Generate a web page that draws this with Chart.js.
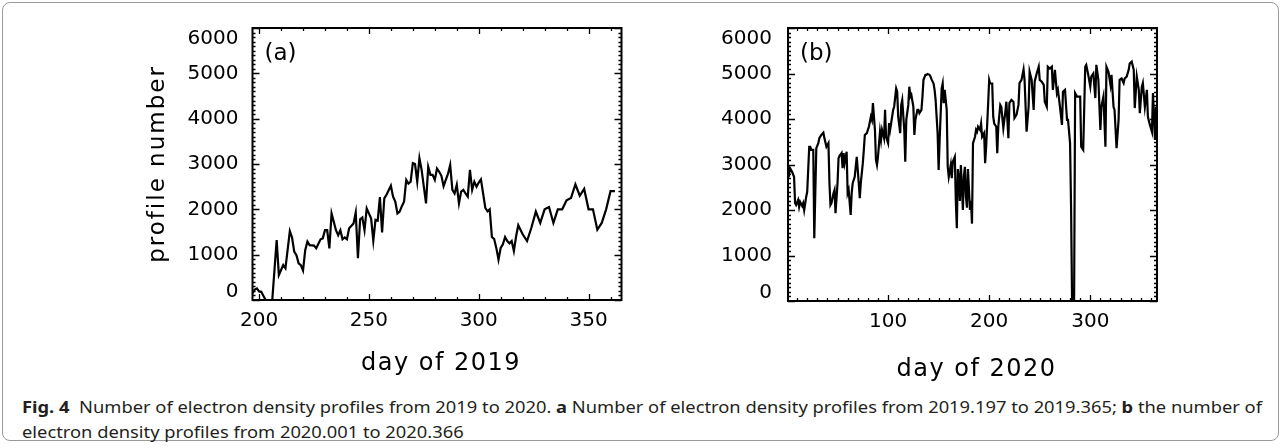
<!DOCTYPE html>
<html>
<head>
<meta charset="utf-8">
<script src="https://cdn.jsdelivr.net/npm/chart.js@4.4.1/dist/chart.umd.min.js"></script>
<style>
    html, body { margin: 0; padding: 0; background: #fff; }
    body { width: 1282px; height: 448px; position: relative; overflow: hidden; }
    .figure-box {
        position: absolute; left: 2px; top: 2px; width: 1277px; height: 439px;
        border: 1px solid #9a9a9a; border-radius: 8px; box-sizing: border-box;
    }
    .panel { position: absolute; top: 0; height: 390px; }
    #panel-a { left: 130px; width: 520px; }
    #panel-b { left: 690px; width: 500px; }
    .caption {
        position: absolute; left: 22px; font-family: "Noto Sans", sans-serif;
        font-size: 16.5px; line-height: 20px; color: #231f20; white-space: nowrap;
        transform-origin: 0 50%;
    }
    #caption-1 { top: 397px; }
    #caption-2 { top: 422px; }
</style>
</head>
<body>
<div class="figure-box"></div>
<div class="panel" id="panel-a"><canvas id="chart-a"></canvas></div>
<div class="panel" id="panel-b"><canvas id="chart-b"></canvas></div>
<div class="caption" id="caption-1"><b>Fig. 4</b>&nbsp; Number of electron density profiles from 2019 to 2020. <b>a</b> Number of electron density profiles from 2019.197 to 2019.365; <b>b</b> the number of</div>
<div class="caption" id="caption-2">electron density profiles from 2020.001 to 2020.366</div>

<script>
// day of year and profile counts, 2019.197 - 2019.365
const days2019 = [
    197, 198, 199, 200, 201, 202, 203, 206, 208, 209, 211, 212, 214, 215, 216, 217, 218, 219, 220,
    221, 222, 223, 225, 226, 228, 229, 230, 231, 232, 233, 235, 236, 237, 238, 239, 240, 241, 243,
    244, 245, 246, 247, 248, 249, 250, 251, 252, 253, 254, 255, 256, 257, 258, 260, 261, 262, 263,
    264, 265, 266, 267, 268, 269, 270, 271, 272, 273, 274, 275, 276, 277, 278, 279, 280, 281, 282,
    283, 284, 285, 286, 287, 288, 289, 290, 291, 292, 293, 294, 295, 296, 297, 298, 299, 300, 301,
    302, 303, 304, 305, 306, 307, 308, 309, 310, 311, 312, 313, 314, 315, 316, 317, 318, 320, 322,
    324, 326, 328, 330, 332, 334, 336, 338, 340, 342, 344, 346, 348, 350, 352, 354, 356, 358, 360,
    362, 364, 365,
];
const profiles2019 = [
    150, 230, 255, 190, 180, 90, 0, 0, 1320, 550, 770, 700, 1520, 1380, 1070, 990, 810, 770, 650,
    1100, 1290, 1210, 1200, 1140, 1340, 1360, 1540, 1540, 1140, 1910, 1540, 1430, 1540, 1340, 1380, 1340, 1580, 1690,
    1930, 920, 1780, 1820, 1540, 2020, 1910, 1800, 1310, 1770, 1750, 2270, 1490, 2240, 2320, 2520, 2280, 2170, 1910,
    1950, 2070, 2170, 2650, 2570, 2610, 3020, 3000, 2610, 3130, 2870, 2500, 2130, 2940, 2760, 2760, 2650, 2900, 2830,
    2740, 2510, 2650, 2780, 2980, 2430, 2350, 2540, 2130, 2390, 2430, 2350, 2280, 2870, 2430, 2610, 2500, 2590, 2660,
    2350, 2030, 1955, 2000, 1390, 1350, 1150, 890, 1150, 1230, 1390, 1300, 1250, 1300, 1080, 1400, 1650, 1450, 1300,
    1600, 1950, 1700, 2000, 2050, 1700, 2000, 2000, 2200, 2250, 2550, 2300, 2450, 2000, 2000, 1550, 1700,
    2000, 2400, 2400,
];

// day of year and profile counts, 2020.001 - 2020.366
const days2020 = [
    1, 2, 3, 5, 7, 8, 9, 11, 12, 13, 15, 16, 17, 19, 20, 22, 23, 24, 26, 27, 29, 31, 32, 34, 36, 37,
    39, 41, 42, 43, 44, 46, 47, 48, 50, 51, 52, 54, 55, 56, 57, 59, 60, 61, 63, 64, 65, 67, 68, 69,
    71, 72, 73, 75, 76, 77, 79, 80, 81, 83, 84, 85, 87, 88, 89, 90, 92, 93, 94, 96, 97, 98, 100, 101,
    102, 104, 105, 106, 108, 109, 110, 112, 113, 114, 116, 117, 118, 120, 121, 122, 123, 125, 126,
    127, 129, 130, 131, 133, 134, 135, 137, 138, 139, 141, 142, 143, 145, 146, 147, 149, 150, 151,
    153, 154, 155, 156, 158, 159, 160, 162, 163, 164, 166, 167, 168, 169, 170, 171, 172, 173, 174,
    175, 176, 177, 178, 179, 180, 181, 182, 183, 184, 186, 187, 188, 189, 191, 192, 193, 195, 196,
    197, 199, 200, 201, 203, 204, 205, 207, 208, 209, 211, 212, 214, 216, 217, 219, 220, 222, 224,
    225, 227, 229, 230, 232, 234, 235, 237, 239, 240, 242, 244, 245, 247, 249, 250, 252, 254, 255,
    257, 258, 260, 262, 263, 265, 267, 268, 270, 272, 273, 275, 277, 278, 280, 281, 282, 284, 285,
    287, 290, 291, 293, 295, 296, 298, 300, 301, 303, 305, 306, 308, 310, 311, 313, 315, 316, 318, 320,
    321, 323, 324, 326, 328, 329, 331, 333, 334, 336, 338, 339, 341, 343, 344, 346, 348, 349, 351,
    352, 354, 356, 357, 359, 361, 362, 364, 365, 366,
];
const profiles2020 = [
    2800, 2770, 2920, 2840, 2730, 2150, 2110, 2220, 2070, 2180, 2090, 2150, 2000, 2290, 2400, 3390, 3390, 3320, 3320, 1380, 3360, 3470, 3580, 3650, 3700, 3580,
    3390, 3470, 2590, 2110, 2150, 2370, 2440, 1930, 2590, 3140, 3190, 3250, 2920, 3250, 3030, 3280, 2370, 2440, 1890, 2370, 2590, 2730, 2950, 3170,
    2590, 2260, 2590, 3030, 3320, 3650, 3690, 3760, 3830, 4050, 3980, 4350, 3760, 3100, 2990, 3170, 3720, 3540, 3760, 3580, 4200, 3610, 3470, 3910,
    3760, 4050, 4200, 4270, 4670, 4600, 4050, 3690, 4310, 4420, 3760, 3060, 3980, 4310, 4710, 4490, 4530, 4270, 3650,
    3980, 4200, 4200, 4130, 4200, 4490, 4860, 4970, 4970, 4990, 4970, 4930, 4870, 4780, 4640, 4420, 3690, 2880, 3540,
    4670, 4780, 4350, 4640, 4200, 2950, 2730, 2990, 2700, 3060, 3170, 2200, 1600, 2900, 2700, 2200, 2990, 2500, 2000,
    2750, 2950, 2300, 2050, 2900, 2450, 2000, 2200, 1700, 3470, 3610, 3760, 3720, 3830, 3760, 3900, 3610, 3690, 3030,
    3390, 4350, 4860, 4780, 4780, 4050, 3900, 3830, 3250, 3830, 4310, 4270, 3800, 4160, 4380, 3580, 4350, 4420, 4380,
    4020, 4090, 4310, 4790, 4860, 5090, 4860, 3720, 4270, 5040, 4860, 4200, 4820, 5000, 5150, 4860, 4820, 4750, 4380,
    4270, 5150, 5110, 5150, 4640, 5080, 4570, 4640, 4270, 3870, 4600, 4640, 3980, 3980, 3470, 2070, 0, 0, 4570,
    4490, 4490, 3390, 3320, 5150, 5190, 4970, 4710, 4930, 5000, 4460, 5190, 4860, 3760, 4270, 4490, 3390, 5150, 5040, 4750,
    4970, 4270, 4200, 3360, 3980, 4860, 4890, 4790, 4890, 4930, 5080, 5220, 5260, 5080, 4240, 4930, 4640, 4130, 4710,
    4790, 4270, 4640, 4050, 3870, 3720, 4570, 3540, 4270, 3700,
];

const xTicks2019 = [200, 250, 300, 350];
const xTicks2020 = [100, 200, 300];
const yTicks = [0, 1000, 2000, 3000, 4000, 5000, 6000];

const FONT = "'DejaVu Sans', sans-serif";

// IDL-style box: frame, inward ticks on all four sides, y labels, panel tag, titles
const boxAxes = {
    id: "boxAxes",
    afterDraw(chart, args, opts) {
        const { ctx, chartArea: a } = chart;
        const x = chart.scales.x;
        const y = chart.scales.y;

        ctx.save();
        ctx.strokeStyle = "#000";
        ctx.lineWidth = 2;
        ctx.strokeRect(a.left, a.top, a.right - a.left, a.bottom - a.top);

        ctx.lineWidth = 1.3;
        ctx.beginPath();
        const x0 = Math.ceil(x.min / opts.xMinor) * opts.xMinor;
        for (let v = x0; v <= x.max; v += opts.xMinor) {
            const px = Math.round(x.getPixelForValue(v)) + 0.5;
            const len = v % opts.xMajor === 0 ? 6 : 3;
            ctx.moveTo(px, a.bottom);
            ctx.lineTo(px, a.bottom - len);
            ctx.moveTo(px, a.top);
            ctx.lineTo(px, a.top + len);
        }
        for (let v = 0; v <= y.max; v += 100) {
            const py = Math.round(y.getPixelForValue(v)) + 0.5;
            const len = v % 1000 === 0 ? 7 : 3;
            ctx.moveTo(a.left, py);
            ctx.lineTo(a.left + len, py);
            ctx.moveTo(a.right, py);
            ctx.lineTo(a.right - len, py);
        }
        ctx.stroke();

        ctx.fillStyle = "#000";
        ctx.font = "20px " + FONT;
        ctx.textAlign = "right";
        ctx.textBaseline = "middle";
        for (const v of yTicks) {
            let py = y.getPixelForValue(v);
            py = Math.min(Math.max(py, a.top + 11), a.bottom - 8);
            ctx.fillText(String(v), a.left - opts.labelGap, py);
        }

        ctx.textAlign = "left";
        ctx.font = "23px " + FONT;
        ctx.fillText(opts.tag, a.left + 12, a.top + 26);

        ctx.textAlign = "center";
        ctx.letterSpacing = "1.5px";
        ctx.font = "24px " + FONT;
        ctx.fillText(opts.xTitle, (a.left + a.right) / 2 + 4, a.bottom + opts.xTitleDrop);
        if (opts.yTitle) {
            ctx.letterSpacing = "2px";
            ctx.font = "23px " + FONT;
            ctx.translate(a.left - 94, (a.top + a.bottom) / 2);
            ctx.rotate(-Math.PI / 2);
            ctx.fillText(opts.yTitle, 0, 0);
        }
        ctx.restore();
    },
};

function makePanel(canvasId, days, counts, xMin, xMax, xTicks, pad, axisHeight, box) {
    const points = days.map((d, i) => ({ x: d, y: counts[i] }));
    return new Chart(document.getElementById(canvasId), {
        type: "line",
        data: {
            datasets: [{
                data: points,
                borderColor: "#000",
                borderWidth: 2.2,
                pointRadius: 0,
                tension: 0,
                fill: false,
            }],
        },
        options: {
            responsive: true,
            maintainAspectRatio: false,
            animation: false,
            events: [],
            layout: { padding: pad },
            plugins: {
                legend: { display: false },
                tooltip: { enabled: false },
                boxAxes: box,
            },
            scales: {
                x: {
                    type: "linear",
                    min: xMin,
                    max: xMax,
                    grid: { display: false, drawTicks: false },
                    border: { display: false },
                    afterBuildTicks: (scale) => {
                        scale.ticks = xTicks.map((v) => ({ value: v }));
                    },
                    afterFit: (scale) => {
                        scale.height = axisHeight;
                    },
                    ticks: {
                        autoSkip: false,
                        maxRotation: 0,
                        padding: 9,
                        color: "#000",
                        font: { family: FONT, size: 20 },
                    },
                },
                y: {
                    display: false,
                    min: 0,
                    max: 6000,
                },
            },
        },
        plugins: [boxAxes],
    });
}

makePanel("chart-a", days2019, profiles2019, 197, 365, xTicks2019,
    { left: 122.5, right: 28.5, top: 28, bottom: 0 }, 90,
    { tag: "(a)", xTitle: "day of 2019", yTitle: "profile number", xMinor: 10, xMajor: 50, labelGap: 14, xTitleDrop: 64 });

makePanel("chart-b", days2020, profiles2020, 1, 366, xTicks2020,
    { left: 98, right: 33, top: 28, bottom: 0 }, 89,
    { tag: "(b)", xTitle: "day of 2020", yTitle: "", xMinor: 10, xMajor: 100, labelGap: 16, xTitleDrop: 69 });

// squeeze the caption lines horizontally so the first one spans the figure width
const cap1 = document.getElementById("caption-1");
const cap2 = document.getElementById("caption-2");
const squeeze = 1240 / cap1.getBoundingClientRect().width;
cap1.style.transform = "scaleX(" + squeeze + ")";
cap2.style.transform = "scaleX(" + squeeze + ")";
</script>
</body>
</html>
